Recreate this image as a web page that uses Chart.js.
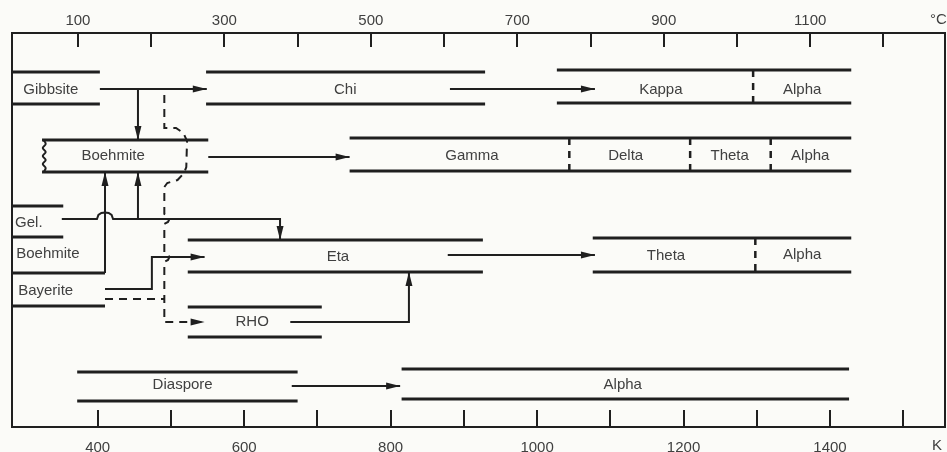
<!DOCTYPE html>
<html>
<head>
<meta charset="utf-8">
<script src="https://cdn.jsdelivr.net/npm/chart.js@4.4.1/dist/chart.umd.min.js"></script>
<style>
    html, body { margin: 0; padding: 0; background: #fbfbf8; }
    #wrap { width: 947px; height: 452px; }
</style>
</head>
<body>
<div id="wrap"><canvas id="chart" width="947" height="452"></canvas></div>
<script>
// axes: temperature in °C (top) and K (bottom)
const celsiusTicks = [100, 200, 300, 400, 500, 600, 700, 800, 900, 1000, 1100, 1200];
const celsiusLabels = [100, 300, 500, 700, 900, 1100];
const kelvinTicks = [400, 500, 600, 700, 800, 900, 1000, 1100, 1200, 1300, 1400, 1500];
const kelvinLabels = [400, 600, 800, 1000, 1200, 1400];
const celsiusRange = [10, 1284];
const celsiusUnitAt = 1275;
const kelvinUnitAt = 1546;

// transition phases (bands), °C and row level (0 = top of frame)
const phaseFrom   = [275, 754, 51, 471, 250, 803, 250, 99, 542];
const phaseTo     = [656, 1156, 278, 1156, 653, 1156, 433, 400, 1153];
const phaseTop    = [39, 37, 107, 105, 207, 205, 274, 339, 336];
const phaseBottom = [71, 70, 139, 138, 239, 239, 304, 368, 366];

// starting materials, boxes open on the left side
const startFrom  = [10, 10, 10, 10, 10, 10];
const startTo    = [130, 130, 80, 80, 137, 137];
const startLevel = [39, 71, 173, 204, 240, 273];

// dashed phase boundaries inside a band
const dividerAt     = [1022, 771, 936, 1046, 1025];
const dividerTop    = [37, 105, 105, 105, 205];
const dividerBottom = [70, 138, 138, 138, 239];

// names
const labelText  = ['Gibbsite', 'Chi', 'Kappa', 'Alpha', 'Boehmite', 'Gamma', 'Delta', 'Theta', 'Alpha',
                    'Gel.', 'Boehmite', 'Bayerite', 'Eta', 'Theta', 'Alpha', 'RHO', 'Diaspore', 'Alpha'];
const labelTemp  = [63, 465, 896, 1089, 148, 638, 848, 990, 1100, 33, 59, 56, 455, 903, 1089, 338, 243, 844];
const labelLevel = [57, 57, 57, 57, 123, 123, 123, 123, 123, 190, 221, 258, 224, 223, 222, 289, 352, 352];

// transformation paths [°C, level]
const gibbsiteToChi = [[130, 56], [276, 56]];
const chiToKappa = [[608, 56], [806, 56]];
const gibbsiteToBoehmite = [[182, 56], [182, 107]];
const boehmiteToGamma = [[278, 124], [471, 124]];
const gelToBoehmite = [[182, 186], [182, 139]];
const gelToEta = [[78, 186], [126, 186], [128, 182], [132, 180], [137, 179.5], [142, 180], [146, 182], [148, 186], [376, 186], [376, 207]];
const boehmiteToBoehmite = [[137, 240], [137, 139]];
const bayeriteToEta = [[137, 256], [201, 256], [201, 224], [273, 224]];
const etaToTheta = [[605, 222], [806, 222]];
const rhoToEta = [[390, 289], [552, 289], [552, 239]];
const diasporeToAlpha = [[392, 353], [540, 353]];
const gibbsiteToRho = [[218, 62], [218, 95], [234, 95], [244, 100], [249, 108], [248, 134], [245, 140], [236, 147], [222, 150], [218, 154],
                       [218, 181], [223, 183], [225, 186], [223, 189], [218, 191],
                       [218, 219], [223, 221], [225, 224], [223, 227], [218, 229], [218, 289], [273, 289]];
const bayeriteToRho = [[137, 266], [218, 266]];
const boehmiteEdge = [[53, 107], [56, 111], [52, 115], [56, 119], [52, 123], [56, 127], [52, 131], [56, 135], [53, 139]];

const ink = '#1f1f1f';
const textInk = '#404040';
const fontFamily = '"Liberation Sans", Arial, sans-serif';

const datasets = [];
function addLine(points, opts) {
    datasets.push(Object.assign({
        data: points.map(p => ({ x: p[0], y: p[1] })),
        showLine: true,
        pointRadius: 0,
        pointHoverRadius: 0,
        borderColor: ink,
        borderWidth: 2,
        tension: 0,
        fill: false
    }, opts || {}));
}

phaseFrom.forEach((from, i) => {
    addLine([[from, phaseTop[i]], [phaseTo[i], phaseTop[i]]], { borderWidth: 3 });
    addLine([[from, phaseBottom[i]], [phaseTo[i], phaseBottom[i]]], { borderWidth: 3 });
});
startFrom.forEach((from, i) => {
    addLine([[from, startLevel[i]], [startTo[i], startLevel[i]]], { borderWidth: 3 });
});
dividerAt.forEach((t, i) => {
    addLine([[t, dividerTop[i]], [t, dividerBottom[i]]], { borderWidth: 2.5, borderDash: [7, 6] });
});
[gibbsiteToChi, chiToKappa, gibbsiteToBoehmite, boehmiteToGamma, gelToBoehmite, gelToEta,
 boehmiteToBoehmite, bayeriteToEta, etaToTheta, rhoToEta, diasporeToAlpha].forEach(path => {
    addLine(path, { arrow: true });
});
addLine(gibbsiteToRho, { arrow: true, borderDash: [8, 6] });
addLine(bayeriteToRho, { borderDash: [8, 6] });
addLine(boehmiteEdge, { tension: 0.4 });

const diagramPlugin = {
    id: 'diagram',
    afterDatasetsDraw(chart) {
        const ctx = chart.ctx;
        const area = chart.chartArea;
        const xs = chart.scales.x;
        const ks = chart.scales.k;
        const ys = chart.scales.y;
        ctx.save();
        ctx.strokeStyle = ink;
        ctx.fillStyle = ink;

        // frame sides
        ctx.lineWidth = 2;
        ctx.beginPath();
        ctx.moveTo(area.left, area.top);
        ctx.lineTo(area.left, area.bottom);
        ctx.moveTo(area.right, area.top);
        ctx.lineTo(area.right, area.bottom);
        ctx.stroke();

        // inward tick marks
        ctx.beginPath();
        celsiusTicks.forEach(v => {
            const x = Math.round(xs.getPixelForValue(v));
            ctx.moveTo(x, area.top);
            ctx.lineTo(x, area.top + 14);
        });
        kelvinTicks.forEach(v => {
            const x = Math.round(ks.getPixelForValue(v));
            ctx.moveTo(x, area.bottom);
            ctx.lineTo(x, area.bottom - 17);
        });
        ctx.stroke();

        // arrowheads
        chart.data.datasets.forEach((ds, i) => {
            if (!ds.arrow) return;
            const pts = chart.getDatasetMeta(i).data;
            const a = pts[pts.length - 2];
            const b = pts[pts.length - 1];
            const ang = Math.atan2(b.y - a.y, b.x - a.x);
            const len = 14, half = 3.5;
            ctx.beginPath();
            ctx.moveTo(b.x, b.y);
            ctx.lineTo(b.x - len * Math.cos(ang) - half * Math.sin(ang), b.y - len * Math.sin(ang) + half * Math.cos(ang));
            ctx.lineTo(b.x - len * Math.cos(ang) + half * Math.sin(ang), b.y - len * Math.sin(ang) - half * Math.cos(ang));
            ctx.closePath();
            ctx.fill();
        });

        // unit labels
        ctx.fillStyle = textInk;
        ctx.font = '15px ' + fontFamily;
        ctx.textAlign = 'center';
        ctx.textBaseline = 'middle';
        ctx.fillText('°C', xs.getPixelForValue(celsiusUnitAt), area.top - 13);
        ctx.fillText('K', ks.getPixelForValue(kelvinUnitAt), area.bottom + 19);

        // phase names
        labelText.forEach((t, i) => {
            ctx.fillText(t, xs.getPixelForValue(labelTemp[i]), ys.getPixelForValue(labelLevel[i]));
        });
        ctx.restore();
    }
};

const tickFont = { family: fontFamily, size: 15 };

new Chart(document.getElementById('chart'), {
    type: 'scatter',
    data: { datasets: datasets },
    options: {
        responsive: false,
        animation: false,
        events: [],
        layout: { padding: { left: 12, right: 2, top: 0, bottom: 0 } },
        plugins: {
            legend: { display: false },
            tooltip: { enabled: false },
            title: { display: false }
        },
        scales: {
            x: {
                type: 'linear',
                position: 'top',
                min: celsiusRange[0],
                max: celsiusRange[1],
                grid: { display: false, drawTicks: false },
                border: { display: true, color: ink, width: 2 },
                ticks: {
                    color: textInk,
                    font: tickFont,
                    padding: 3,
                    autoSkip: false,
                    maxRotation: 0,
                    callback: v => String(v)
                },
                afterBuildTicks: s => { s.ticks = celsiusLabels.map(v => ({ value: v })); },
                afterFit: s => { s.height = 33; }
            },
            k: {
                type: 'linear',
                axis: 'x',
                position: 'bottom',
                min: celsiusRange[0] + 273,
                max: celsiusRange[1] + 273,
                grid: { display: false, drawTicks: false },
                border: { display: true, color: ink, width: 2 },
                ticks: {
                    color: textInk,
                    font: tickFont,
                    padding: 12,
                    autoSkip: false,
                    maxRotation: 0,
                    callback: v => String(v)
                },
                afterBuildTicks: s => { s.ticks = kelvinLabels.map(v => ({ value: v })); },
                afterFit: s => { s.height = 25; }
            },
            y: {
                type: 'linear',
                display: false,
                reverse: true,
                min: 0,
                max: 394
            }
        }
    },
    plugins: [diagramPlugin]
});
</script>
</body>
</html>
